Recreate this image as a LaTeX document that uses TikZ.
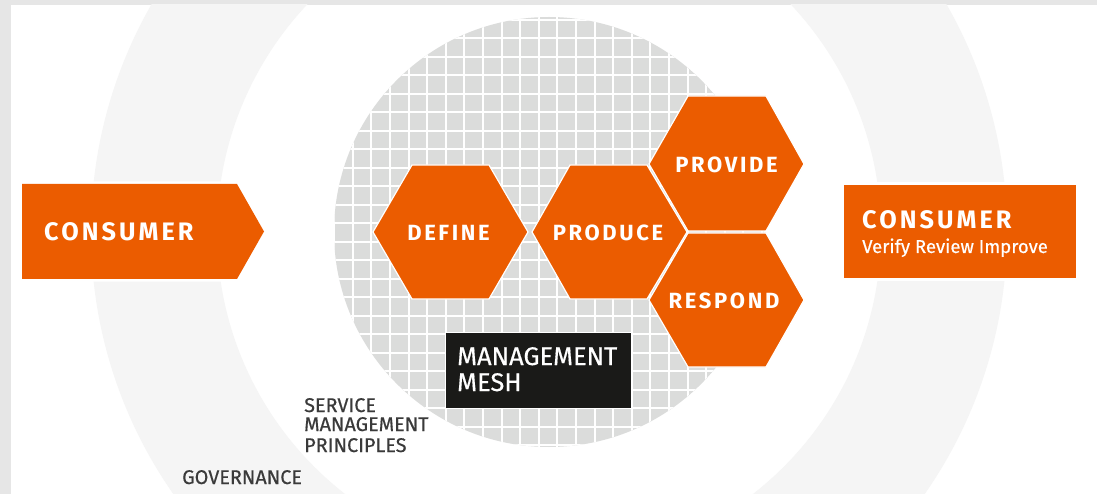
\documentclass[tikz,border=0pt]{standalone}
\usepackage{fontspec}
\setmainfont{Fira Sans}
\newfontfamily\spaced[LetterSpace=12]{Fira Sans}
\newfontfamily\semi[FakeBold=0.5]{Fira Sans}
\definecolor{orng}{HTML}{EB5C00}
\definecolor{ring}{HTML}{F5F5F5}
\definecolor{page}{HTML}{E6E6E6}
\definecolor{mesh}{HTML}{DBDCDB}
\definecolor{ink}{HTML}{1A1A18}
\definecolor{lab}{HTML}{3A3A3A}
\tikzset{
  orangeshape/.style={fill=orng,draw=white,line width=1.2pt,line join=miter},
  halobox/.style={fill=orng,preaction={draw=white,line width=5pt,line join=miter}},
  meshline/.style={white,line width=1.6pt},
  title/.style={anchor=base west,inner sep=0pt,text=white,font=\spaced\bfseries\fontsize{25.3}{25.3}\selectfont},
  hextitle/.style={anchor=base,inner sep=0pt,text=white,font=\spaced\bfseries\fontsize{22}{22}\selectfont},
  greylabel/.style={anchor=base west,inner sep=0pt,text=lab,font=\semi\fontsize{19.8}{19.8}\selectfont},
  meshlabel/.style={anchor=base west,inner sep=0pt,text=white,font=\semi\fontsize{25.5}{25.5}\selectfont},
  sublabel/.style={anchor=base west,inner sep=0pt,text=white,font=\semi\fontsize{18.6}{18.6}\selectfont},
}
\begin{document}
\begin{tikzpicture}[x=1pt,y=-1pt]
\useasboundingbox (0,0) rectangle (1097,494);
\fill[page] (0,0) rectangle (1097,494);
\begin{scope}
\clip (11,5) rectangle (1097,494);
\fill[white] (11,5) rectangle (1097,494);
\fill[ring,even odd rule] (549,232) circle[radius=458] (549,232) circle[radius=332];
\end{scope}
% mesh disc
\begin{scope}
\clip (549,232) circle[radius=215];
\fill[mesh] (330,10) rectangle (770,450);
\foreach \k in {-4,...,20} \draw[meshline] ({round(390+18.6*\k)},10) -- ({round(390+18.6*\k)},450);
\foreach \k in {-6,...,18} \draw[meshline] (330,{round(112+18.5*\k)}) -- (770,{round(112+18.5*\k)});
\end{scope}
% hexagons
\draw[orangeshape] (373,232) -- (412,165) -- (489,165) -- (528,232) -- (489,299) -- (412,299) -- cycle;
\draw[orangeshape] (532,232) -- (570,165) -- (647,165) -- (687,232) -- (647,299) -- (570,299) -- cycle;
\draw[orangeshape] (649,164) -- (688,96) -- (766,96) -- (804,164) -- (766,231) -- (688,231) -- cycle;
\draw[orangeshape] (649,300) -- (688,233) -- (766,233) -- (804,300) -- (766,367) -- (688,367) -- cycle;
\node[hextitle] (define) at (448.5,240.5) {DEFINE};
\node[hextitle] (produce) at (608,240.5) {PRODUCE};
\node[hextitle] (provide) at (726.5,172.5) {PROVIDE};
\node[hextitle] (respond) at (724,308) {RESPOND};
% consumer shapes
\path[halobox] (22,184) -- (237,184) -- (264,231.5) -- (237,279) -- (22,279) -- cycle;
\path[halobox] (844,185) rectangle (1076,278);
\node[title] (consumerL) at (44,240.5) {CONSUMER};
\node[title] (consumerR) at (862,228.5) {CONSUMER};
\node[sublabel] (verify) at (862,253) {Verify Review Improve};
% management mesh
\draw[fill=ink,draw=white,line width=0.6pt] (445.7,332.7) rectangle (631.3,408.3);
\node[meshlabel] (mgmt) at (457,365) {MANAGEMENT};
\node[meshlabel] (meshw) at (457,391) {MESH};
% side labels
\node[greylabel] (service) at (304,412) {SERVICE};
\node[greylabel] (management) at (304,431) {MANAGEMENT};
\node[greylabel] (principles) at (304,452) {PRINCIPLES};
\node[greylabel] (governance) at (182,484) {GOVERNANCE};
\end{tikzpicture}
\end{document}
